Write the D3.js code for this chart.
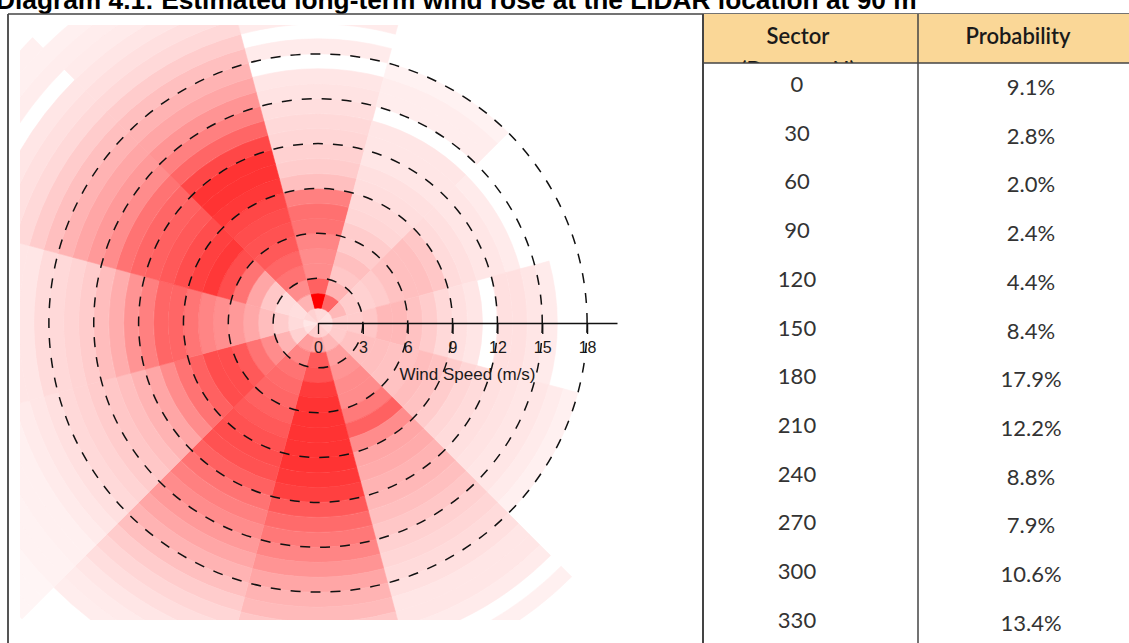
<!DOCTYPE html>
<html>
<head>
<meta charset="utf-8">
<script src="https://cdn.jsdelivr.net/npm/d3@7"></script>
<style>
  body { margin: 0; background: #fff; }
  svg { display: block; }
</style>
</head>
<body>
<div id="chart"></div>
<script>
// sector bearings (degrees) and their probability
const sectors = [0, 30, 60, 90, 120, 150, 180, 210, 240, 270, 300, 330];
const probability = [9.1, 2.8, 2.0, 2.4, 4.4, 8.4, 17.9, 12.2, 8.8, 7.9, 10.6, 13.4];
const speedTicks = [0, 3, 6, 9, 12, 15, 18];

// colour intensity per 1 m/s speed bin (0 = no data, 1 = full red)
const bins000 = [0.15, 1.0, 0.62, 0.45, 0.45, 0.48, 0.55, 0.56, 0.5, 0.25, 0.2, 0.18, 0.16, 0.15, 0.13, 0.11, 0.1, 0, 0.08, 0, 0.08];
const bins030 = [0.15, 0.6, 0.3, 0.22, 0.25, 0.2, 0.2, 0.16, 0.15, 0.13, 0.12, 0.1, 0.1, 0.1, 0, 0.07, 0.07, 0.05];
const bins060 = [0.12, 0.28, 0.2, 0.18, 0.2, 0.24, 0.25, 0.25, 0.22, 0.14, 0.12, 0.1, 0.1, 0.08];
const bins090 = [0.12, 0.2, 0.2, 0.22, 0.28, 0.28, 0.24, 0.2, 0.15, 0.12, 0.1, 0, 0.12, 0.12, 0.1, 0.08];
const bins120 = [0.15, 0.2, 0.24, 0.25, 0.25, 0.24, 0.24, 0.26, 0.24, 0.2, 0.16, 0.14, 0.12, 0.11, 0.1, 0.1, 0.08, 0.06];
const bins150 = [0.18, 0.28, 0.38, 0.42, 0.45, 0.45, 0.52, 0.62, 0.45, 0.35, 0.33, 0.3, 0.28, 0.25, 0.22, 0.18, 0.16, 0.14, 0.12, 0.1, 0.1, 0.08, 0, 0.06];
const bins180 = [0.2, 0.35, 0.65, 0.68, 0.77, 0.8, 0.8, 0.8, 0.8, 0.8, 0.78, 0.75, 0.65, 0.58, 0.53, 0.48, 0.42, 0.35, 0.3, 0.27, 0.22];
const bins210 = [0.2, 0.38, 0.48, 0.55, 0.58, 0.6, 0.62, 0.65, 0.68, 0.7, 0.68, 0.62, 0.55, 0.5, 0.45, 0.4, 0.35, 0.3, 0.25, 0.2, 0.16, 0.13, 0.1, 0.08, 0.07];
const bins240 = [0.12, 0.18, 0.3, 0.45, 0.55, 0.65, 0.7, 0.7, 0.62, 0.55, 0.45, 0.35, 0.3, 0.25, 0.22, 0.2, 0.17, 0.15, 0.12, 0.1, 0.08, 0.06, 0.06, 0.05, 0.05, 0.04, 0.04, 0.04];
const bins270 = [0.1, 0.14, 0.2, 0.26, 0.34, 0.4, 0.44, 0.48, 0.54, 0.6, 0.6, 0.5, 0.42, 0.32, 0.26, 0.2, 0.17, 0.15, 0.14, 0.1, 0.1];
const bins300 = [0.15, 0.13, 0.14, 0.22, 0.35, 0.55, 0.7, 0.78, 0.75, 0.7, 0.65, 0.62, 0.6, 0.55, 0.45, 0.4, 0.35, 0.3, 0.25, 0.2, 0.15, 0.12, 0.1, 0, 0.07, 0.06, 0.06];
const bins330 = [0.18, 0.3, 0.45, 0.55, 0.6, 0.65, 0.68, 0.7, 0.72, 0.78, 0.8, 0.8, 0.72, 0.6, 0.5, 0.42, 0.35, 0.3, 0.25, 0.2, 0.15, 0.12, 0.1, 0.08, 0.07, 0.06];

const binsBySector = [bins000, bins030, bins060, bins090, bins120, bins150,
                      bins180, bins210, bins240, bins270, bins300, bins330];

const W = 1129, H = 643;
const cx = 318, cy = 323;

const svg = d3.select("#chart")
  .append("svg")
  .attr("width", W)
  .attr("height", H)
  .style("background", "#fff");

// scales
const r = d3.scaleLinear().domain([0, 20]).range([0, 299]);
const ang = d3.scaleLinear().domain([0, 360]).range([0, 2 * Math.PI]);
const color = d3.scaleLinear().domain([0, 1]).range(["#ffffff", "#ff0000"]);

// title (cut off at the top of the page)
svg.append("text")
  .attr("x", -4)
  .attr("y", 9)
  .style("font-family", "'Liberation Sans', Arial, sans-serif")
  .style("font-size", "26.3px")
  .style("font-weight", "bold")
  .attr("fill", "#000")
  .text("Diagram 4.1: Estimated long-term wind rose at the LiDAR location at 90 m");

// frame lines
svg.append("line").attr("x1", 8).attr("x2", 8).attr("y1", 14).attr("y2", H)
  .attr("stroke", "#555").attr("stroke-width", 2);
svg.append("line").attr("x1", 8).attr("x2", W).attr("y1", 14).attr("y2", 14)
  .attr("stroke", "#444").attr("stroke-width", 1.5);

// wind rose cells
svg.append("clipPath").attr("id", "plotClip")
  .append("rect").attr("x", 20).attr("y", 25).attr("width", 680).attr("height", 595);

const rose = svg.append("g")
  .attr("clip-path", "url(#plotClip)")
  .append("g")
  .attr("transform", `translate(${cx},${cy})`);

const cells = [];
sectors.forEach((s, i) => {
  binsBySector[i].forEach((v, b) => {
    if (v > 0) cells.push({ sector: s, bin: b, v: v });
  });
});

const arc = d3.arc()
  .innerRadius(d => r(d.bin))
  .outerRadius(d => r(d.bin + 1))
  .startAngle(d => ang(d.sector - 15))
  .endAngle(d => ang(d.sector + 15));

rose.selectAll("path.cell")
  .data(cells)
  .join("path")
  .attr("class", "cell")
  .attr("d", arc)
  .attr("fill", d => color(d.v))
  .attr("stroke", d => color(d.v))
  .attr("stroke-width", 0.6);

// speed axis
const axisG = svg.append("g")
  .attr("transform", `translate(${cx},${cy})`)
  .call(d3.axisBottom(r).tickValues(speedTicks).tickSize(11).tickPadding(8).tickSizeOuter(0));

axisG.select(".domain").attr("stroke", "#111").attr("stroke-width", 1.3);
axisG.selectAll(".tick line").attr("stroke", "#111").attr("stroke-width", 1.3);
axisG.selectAll(".tick text")
  .attr("fill", "#1a1a1a")
  .style("font-family", "'Liberation Sans', Arial, sans-serif")
  .style("font-size", "16px");

svg.append("text")
  .attr("x", cx + r(10))
  .attr("y", 380)
  .attr("text-anchor", "middle")
  .attr("fill", "#1a1a1a")
  .style("font-family", "'Liberation Sans', Arial, sans-serif")
  .style("font-size", "17px")
  .text("Wind Speed (m/s)");

// dashed speed circles on top
svg.append("g")
  .attr("transform", `translate(${cx},${cy})`)
  .selectAll("circle")
  .data(speedTicks.filter(d => d > 0))
  .join("circle")
  .attr("r", d => r(d))
  .attr("fill", "none")
  .attr("stroke", "#111")
  .attr("stroke-width", 1.5)
  .attr("stroke-dasharray", "10,10");

// table
const tX0 = 703, tX1 = 918;
const headTop = 14, headBottom = 63;

svg.append("rect")
  .attr("x", tX0).attr("y", headTop)
  .attr("width", W - tX0).attr("height", headBottom - headTop)
  .attr("fill", "#fad797");

svg.append("clipPath").attr("id", "headClip")
  .append("rect").attr("x", tX0).attr("y", headTop)
  .attr("width", W - tX0).attr("height", headBottom - headTop);

const head = svg.append("g")
  .attr("clip-path", "url(#headClip)")
  .style("font-family", "Lato, 'Open Sans', sans-serif")
  .style("font-size", "22px")
  .style("font-weight", "600")
  .attr("fill", "#1a1a1a")
  .attr("text-anchor", "middle");

head.append("text").attr("x", 798).attr("y", 44).text("Sector");
head.append("text").attr("x", 798).attr("y", 78).text("(Degrees N)");
head.append("text").attr("x", 1018).attr("y", 44).text("Probability");

svg.append("line").attr("x1", tX0).attr("x2", tX0).attr("y1", headTop).attr("y2", H)
  .attr("stroke", "#444").attr("stroke-width", 2);
svg.append("line").attr("x1", tX1).attr("x2", tX1).attr("y1", headTop).attr("y2", H)
  .attr("stroke", "#444").attr("stroke-width", 1.5);
svg.append("line").attr("x1", tX0).attr("x2", W).attr("y1", headBottom).attr("y2", headBottom)
  .attr("stroke", "#444").attr("stroke-width", 1.5);

const rowY = d3.scalePoint()
  .domain(sectors)
  .range([92, 92 + 48.7 * (sectors.length - 1)]);

const body = svg.append("g")
  .style("font-family", "Lato, 'Open Sans', sans-serif")
  .style("font-size", "22px")
  .attr("fill", "#333")
  .attr("text-anchor", "middle");

body.selectAll("text.sector")
  .data(sectors)
  .join("text")
  .attr("class", "sector")
  .attr("x", 797)
  .attr("y", d => rowY(d))
  .text(d => d);

body.selectAll("text.prob")
  .data(sectors)
  .join("text")
  .attr("class", "prob")
  .attr("x", 1031)
  .attr("y", d => rowY(d) + 3)
  .text((d, i) => probability[i].toFixed(1) + "%");
</script>
</body>
</html>
